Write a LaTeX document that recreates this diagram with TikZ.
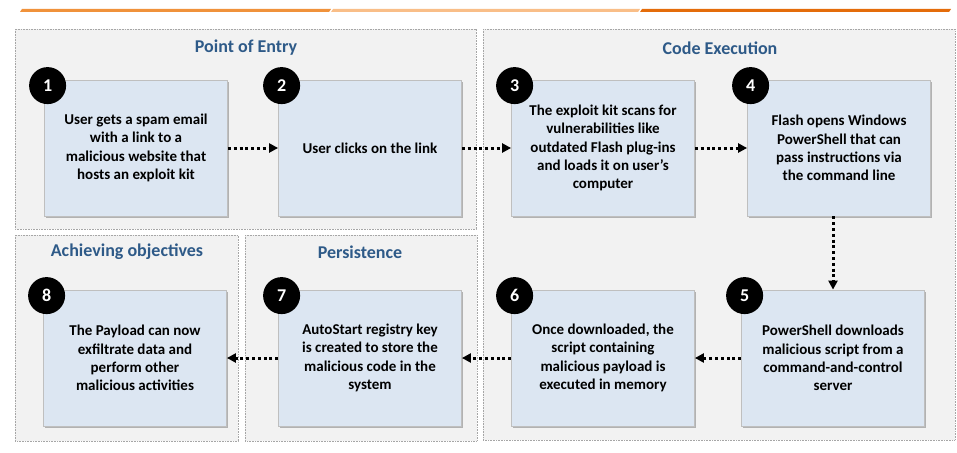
\documentclass[tikz,border=0pt]{standalone}
\usepackage{fontspec}
\setmainfont{Carlito}
\usetikzlibrary{arrows.meta,shadows,calc}
\definecolor{panelfill}{HTML}{F2F2F2}
\definecolor{panelline}{HTML}{A6A6A6}
\definecolor{boxfill}{HTML}{DCE6F2}
\definecolor{boxline}{HTML}{BFBFBF}
\definecolor{titleblue}{HTML}{2E5A88}
\definecolor{barA}{HTML}{F0923B}
\definecolor{barB}{HTML}{F9BE88}
\definecolor{barC}{HTML}{E46C0A}
\tikzset{
  panel/.style={draw=panelline, fill=panelfill, line width=0.6pt, dash pattern=on 0.8pt off 0.8pt},
  paneltitle/.style={text=titleblue, font=\bfseries\fontsize{18}{21}\selectfont, anchor=center},
  stepbox/.style={draw=boxline, fill=boxfill, line width=0.8pt, minimum width=183pt, minimum height=136pt,
    align=center, font=\bfseries\fontsize{15}{18.3}\selectfont, inner sep=0pt,
    drop shadow={shadow xshift=1.5pt, shadow yshift=-1.5pt, opacity=0.45, fill=black!60}},
  numcircle/.style={circle, fill=black, minimum size=37pt, inner sep=0pt, text=white,
    font=\bfseries\fontsize{18}{18}\selectfont},
  flow/.style={line width=3pt, dash pattern=on 3pt off 2.8pt, -{Triangle[length=9pt,width=9pt]}},
}
\begin{document}
\begin{tikzpicture}[x=1pt,y=-1pt]
\useasboundingbox (0,0) rectangle (957,452);
% top bar
\fill[barA] (20,12) -- (22,9) -- (331,9) -- (329,12) -- cycle;
\fill[barB] (331,12) -- (333,9) -- (640,9) -- (638,12) -- cycle;
\fill[barC] (640,12) -- (642,9) -- (951,9) -- (949,12) -- cycle;
% panels
\draw[panel] (15,29) rectangle (476,229);
\draw[panel] (483,29) rectangle (955,440);
\draw[panel] (15,235) rectangle (238,441);
\draw[panel] (245,235) rectangle (477,441);
\node[paneltitle] (t1) at (246,48) {Point of Entry};
\node[paneltitle] (t2) at (720,48) {Code Execution};
\node[paneltitle] (t3) at (127,252) {Achieving objectives};
\node[paneltitle] (t4) at (360,252) {Persistence};
% boxes
\node[stepbox] (b1) at (136,148) {User gets a spam email\\with a link to a\\malicious website that\\hosts an exploit kit};
\node[stepbox] (b2) at (370,148) {User clicks on the link};
\node[stepbox] (b3) at (603,148) {The exploit kit scans for\\vulnerabilities like\\outdated Flash plug-ins\\and loads it on user’s\\computer};
\node[stepbox] (b4) at (839,148) {Flash opens Windows\\PowerShell that can\\pass instructions via\\the command line};
\node[stepbox] (b5) at (833,358) {PowerShell downloads\\malicious script from a\\command-and-control\\server};
\node[stepbox] (b6) at (603,358) {Once downloaded, the\\script containing\\malicious payload is\\executed in memory};
\node[stepbox] (b7) at (370,358) {AutoStart registry key\\is created to store the\\malicious code in the\\system};
\node[stepbox] (b8) at (135,358) {The Payload can now\\exfiltrate data and\\perform other\\malicious activities};
% numbers
\foreach \b/\n in {b1/1,b2/2,b3/3,b4/4,b5/5,b6/6,b7/7,b8/8}{
  \node[numcircle] (n\n) at ($(\b.north west)+(3.5,6)$) {\n};
}
% arrows
\draw[flow] (b1.east) -- (b2.west);
\draw[flow] (b2.east) -- (b3.west);
\draw[flow] (b3.east) -- (b4.west);
\draw[flow] (b4.south -| b5.north) -- (b5.north);
\draw[flow] (b5.west) -- (b6.east);
\draw[flow] (b6.west) -- (b7.east);
\draw[flow] (b7.west) -- (b8.east);
\end{tikzpicture}
\end{document}
